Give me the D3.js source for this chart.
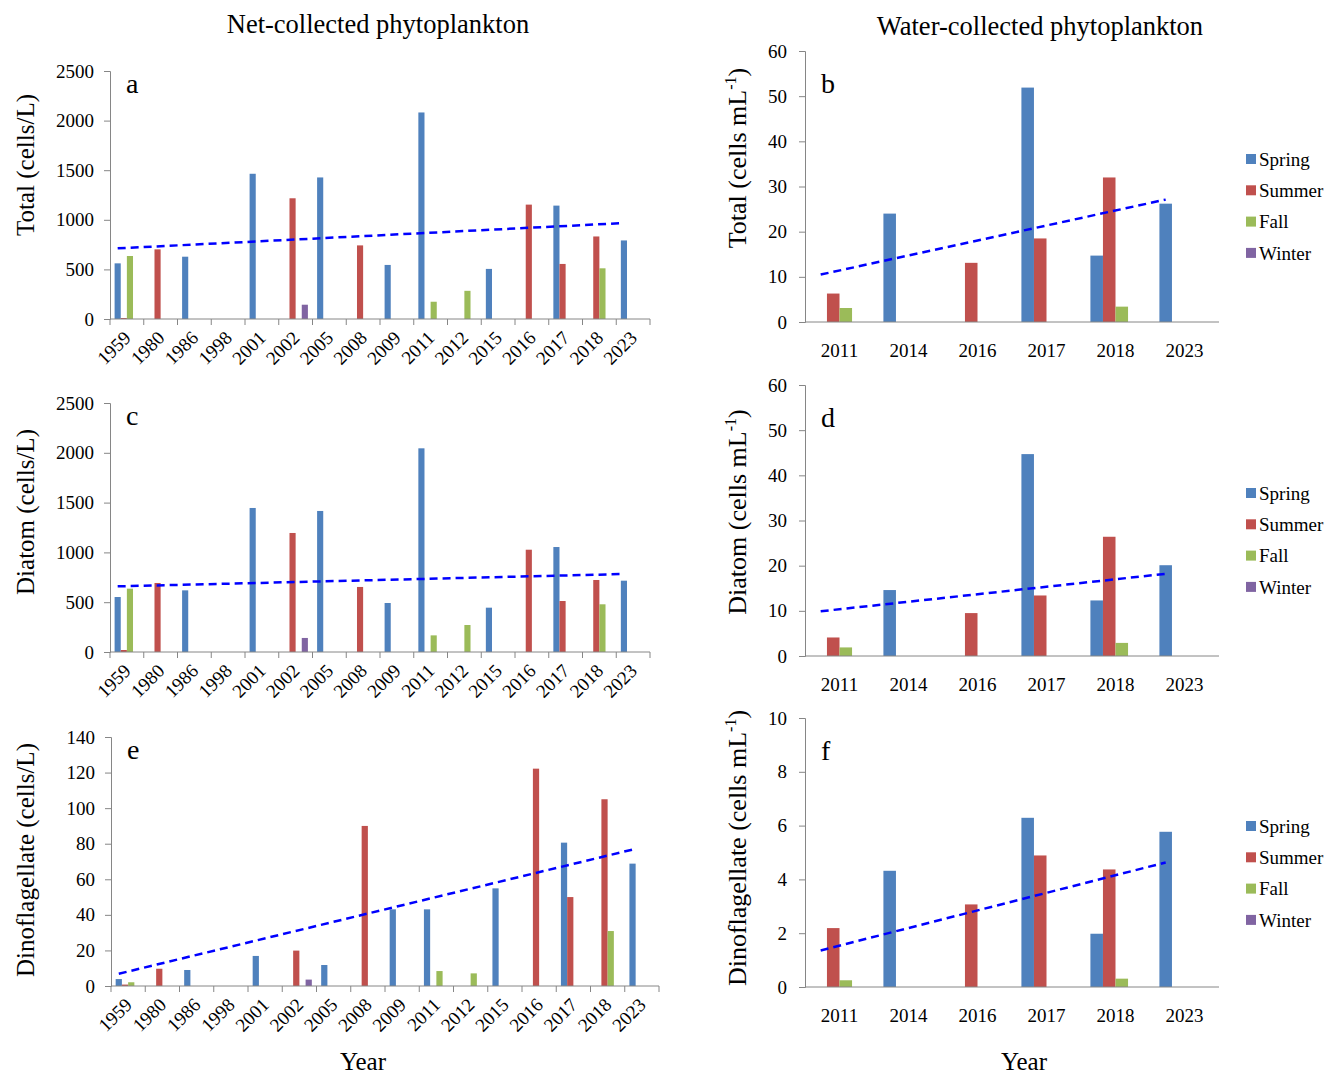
<!DOCTYPE html>
<html>
<head>
<meta charset="utf-8">
<style>
  body { margin: 0; background: #fff; }
  svg text { font-family: "Liberation Serif", "Times New Roman", serif; fill: #000; }
</style>
</head>
<body>
<svg id="chart"></svg>
<script src="https://cdn.jsdelivr.net/npm/d3@7/dist/d3.min.js"></script>
<script>

let width = 1325,
    height = 1074;

let seasons = ["Spring", "Summer", "Fall", "Winter"];
let seasonColors = ["#4F81BD", "#C0504D", "#9BBB59", "#8064A2"];

let netYears = ["1959","1980","1986","1998","2001","2002","2005","2008","2009","2011","2012","2015","2016","2017","2018","2023"];
let waterYears = ["2011","2014","2016","2017","2018","2023"];

// net-collected, total (cells/L)
let aSpring = [561, null, 628, null, 1464, null, 1427, null, 545, 2082, null, 505, null, 1143, null, 792];
let aSummer = [10, 702, null, null, null, 1217, null, 742, null, null, null, null, 1153, 555, 832, null];
let aFall   = [635, null, null, null, null, null, null, null, null, 174, 284, null, null, null, 511, null];
let aWinter = [null, null, null, null, null, 144, null, null, null, null, null, null, null, null, null, null];
let aTrend  = [712, 967];

// net-collected, diatom
let cSpring = [552, null, 619, null, 1446, null, 1416, null, 492, 2045, null, 445, null, 1054, null, 716];
let cSummer = [20, 693, null, null, null, 1195, null, 653, null, null, null, null, 1027, 512, 723, null];
let cFall   = [636, null, null, null, null, null, null, null, null, 167, 271, null, null, null, 479, null];
let cWinter = [null, null, null, null, null, 141, null, null, null, null, null, null, null, null, null, null];
let cTrend  = [659, 783];

// net-collected, dinoflagellate
let eSpring = [3.9, null, 9.0, null, 16.9, null, 11.8, null, 43.1, 43.1, null, 54.9, null, 80.6, null, 68.8];
let eSummer = [0.8, 9.7, null, null, null, 19.9, null, 90, null, null, null, null, 122.2, 50, 105, null];
let eFall   = [2.1, null, null, null, null, null, null, null, null, 8.4, 7.1, null, null, null, 30.9, null];
let eWinter = [null, null, null, null, null, 3.6, null, null, null, null, null, null, null, null, null, null];
let eTrend  = [6.9, 76.7];

// water-collected, total (cells mL-1)
let bSpring = [null, 24.0, null, 51.9, 14.7, 26.2];
let bSummer = [6.3, null, 13.1, 18.5, 32.0, null];
let bFall   = [3.1, null, null, null, 3.4, null];
let bWinter = [null, null, null, null, null, null];
let bTrend  = [10.5, 27.1];

// water-collected, diatom
let dSpring = [null, 14.6, null, 44.7, 12.3, 20.1];
let dSummer = [4.1, null, 9.5, 13.4, 26.4, null];
let dFall   = [1.9, null, null, null, 2.9, null];
let dWinter = [null, null, null, null, null, null];
let dTrend  = [9.9, 18.2];

// water-collected, dinoflagellate
let fSpring = [null, 4.32, null, 6.29, 1.98, 5.77];
let fSummer = [2.19, null, 3.07, 4.89, 4.37, null];
let fFall   = [0.25, null, null, null, 0.31, null];
let fWinter = [null, null, null, null, null, null];
let fTrend  = [1.36, 4.63];

let yTicksNet = [0, 500, 1000, 1500, 2000, 2500];
let yTicksDino = [0, 20, 40, 60, 80, 100, 120, 140];
let yTicksWater = [0, 10, 20, 30, 40, 50, 60];
let yTicksWaterDino = [0, 2, 4, 6, 8, 10];

let svg = d3.select("#chart")
    .attr("width", width)
    .attr("height", height);

let panels = [
  { letter: "a", cats: netYears, series: [aSpring, aSummer, aFall, aWinter], trend: aTrend,
    ticks: yTicksNet, left: 110, right: 650, top: 71, bottom: 319, net: true,
    label: ["Total (cells/L)"], labelX: 25, labelY: 165 },
  { letter: "c", cats: netYears, series: [cSpring, cSummer, cFall, cWinter], trend: cTrend,
    ticks: yTicksNet, left: 110, right: 650, top: 403, bottom: 652, net: true,
    label: ["Diatom (cells/L)"], labelX: 25, labelY: 512 },
  { letter: "e", cats: netYears, series: [eSpring, eSummer, eFall, eWinter], trend: eTrend,
    ticks: yTicksDino, left: 111, right: 659, top: 737, bottom: 986, net: true,
    label: ["Dinoflagellate  (cells/L)"], labelX: 25, labelY: 860 },
  { letter: "b", cats: waterYears, series: [bSpring, bSummer, bFall, bWinter], trend: bTrend,
    ticks: yTicksWater, left: 805, right: 1219, top: 51, bottom: 322, net: false,
    label: ["Total (cells mL", "-1", ")"], labelX: 737, labelY: 158, legendY: 159 },
  { letter: "d", cats: waterYears, series: [dSpring, dSummer, dFall, dWinter], trend: dTrend,
    ticks: yTicksWater, left: 805, right: 1219, top: 385, bottom: 656, net: false,
    label: ["Diatom (cells mL", "-1", ")"], labelX: 737, labelY: 512, legendY: 493 },
  { letter: "f", cats: waterYears, series: [fSpring, fSummer, fFall, fWinter], trend: fTrend,
    ticks: yTicksWaterDino, left: 805, right: 1219, top: 718, bottom: 987, net: false,
    label: ["Dinoflagellate  (cells mL", "-1", ")"], labelX: 737, labelY: 848, legendY: 826 }
];

panels.forEach(p => {
  let g = svg.append("g");

  let x = d3.scaleBand()
      .domain(p.cats)
      .range([p.left, p.right])
      .padding(0);

  // Excel style: 150% gap width between clusters
  let x1 = d3.scaleBand()
      .domain(seasons)
      .range([0, x.bandwidth()])
      .paddingInner(0)
      .paddingOuter(0.75);

  let y = d3.scaleLinear()
      .domain([0, d3.max(p.ticks)])
      .range([p.bottom, p.top]);

  // bars
  p.series.forEach((vals, si) => {
    let rows = p.cats.map((c, i) => ({ cat: c, v: vals[i] })).filter(d => d.v != null);
    g.append("g")
      .selectAll("rect")
      .data(rows)
      .enter()
      .append("rect")
        .attr("x", d => x(d.cat) + x1(seasons[si]))
        .attr("width", x1.bandwidth())
        .attr("y", d => y(d.v))
        .attr("height", d => y(0) - y(d.v))
        .style("fill", seasonColors[si]);
  });

  // y axis
  let yAxis = g.append("g")
      .attr("transform", "translate(" + p.left + ",0)")
      .call(d3.axisLeft(y).tickValues(p.ticks).tickSize(6).tickPadding(p.net ? 10 : 12).tickFormat(d3.format("d")));
  yAxis.selectAll("path, line").attr("stroke", "#868686");
  yAxis.selectAll("text").style("font-size", "19px");

  // x axis
  let xAxisG = g.append("g")
      .attr("transform", "translate(0," + p.bottom + ")");
  xAxisG.append("line")
      .attr("x1", p.left).attr("x2", p.right)
      .attr("stroke", "#868686");

  if (p.net) {
    let bounds = p.cats.map(c => x(c)).concat([p.right]);
    xAxisG.selectAll("line.tick")
      .data(bounds)
      .enter()
      .append("line")
        .attr("class", "tick")
        .attr("x1", d => d).attr("x2", d => d)
        .attr("y1", 0).attr("y2", 6)
        .attr("stroke", "#868686");
    xAxisG.selectAll("text")
      .data(p.cats)
      .enter()
      .append("text")
        .attr("transform", d => "translate(" + (x(d) + x.bandwidth() / 2 + 5) + ",20) rotate(-45)")
        .attr("text-anchor", "end")
        .style("font-size", "19px")
        .text(d => d);
  } else {
    xAxisG.selectAll("text")
      .data(p.cats)
      .enter()
      .append("text")
        .attr("x", d => x(d) + x.bandwidth() / 2)
        .attr("y", 35)
        .attr("text-anchor", "middle")
        .style("font-size", "19px")
        .text(d => d);
  }

  // linear trendline, dashed
  let tx0 = x(p.cats[0]) + x1("Spring") + x1.bandwidth() / 2,
      tx1 = x(p.cats[p.cats.length - 1]) + x1("Spring") + x1.bandwidth() / 2;
  g.append("line")
      .attr("x1", tx0).attr("y1", y(p.trend[0]))
      .attr("x2", tx1).attr("y2", y(p.trend[1]))
      .attr("stroke", "#0000ff")
      .attr("stroke-width", 2.5)
      .attr("stroke-dasharray", "8,5");

  // panel letter
  g.append("text")
      .attr("x", p.left + 16)
      .attr("y", p.net ? p.top + 22 : p.top + 42)
      .style("font-size", "28px")
      .text(p.letter);

  // y axis title
  let t = g.append("text")
      .attr("transform", "translate(" + p.labelX + "," + p.labelY + ") rotate(-90)")
      .attr("text-anchor", "middle")
      .attr("dy", "0.35em")
      .style("font-size", p.net ? "25px" : "26px");
  t.append("tspan").text(p.label[0]);
  if (p.label.length > 1) {
    t.append("tspan").attr("dy", -10).style("font-size", "16px").text(p.label[1]);
    t.append("tspan").attr("dy", 10).text(p.label[2]);
  }

  // legend
  if (!p.net) {
    let lg = g.append("g")
        .attr("transform", "translate(1246," + p.legendY + ")");
    let item = lg.selectAll("g")
      .data(seasons)
      .enter()
      .append("g")
        .attr("transform", (d, i) => "translate(0," + (i * 31.3) + ")");
    item.append("rect")
        .attr("x", 0).attr("y", -5)
        .attr("width", 10).attr("height", 10)
        .style("fill", (d, i) => seasonColors[i]);
    item.append("text")
        .attr("x", 13).attr("y", 0)
        .attr("dy", "0.35em")
        .style("font-size", "19px")
        .text(d => d);
  }
});

// column titles and x titles
svg.append("text")
    .attr("x", 378).attr("y", 33)
    .attr("text-anchor", "middle")
    .style("font-size", "26.5px")
    .text("Net-collected phytoplankton");
svg.append("text")
    .attr("x", 1040).attr("y", 35)
    .attr("text-anchor", "middle")
    .style("font-size", "26.5px")
    .text("Water-collected phytoplankton");
svg.append("text")
    .attr("x", 363).attr("y", 1070)
    .attr("text-anchor", "middle")
    .style("font-size", "25px")
    .text("Year");
svg.append("text")
    .attr("x", 1024).attr("y", 1070)
    .attr("text-anchor", "middle")
    .style("font-size", "25px")
    .text("Year");

</script>
</body>
</html>
